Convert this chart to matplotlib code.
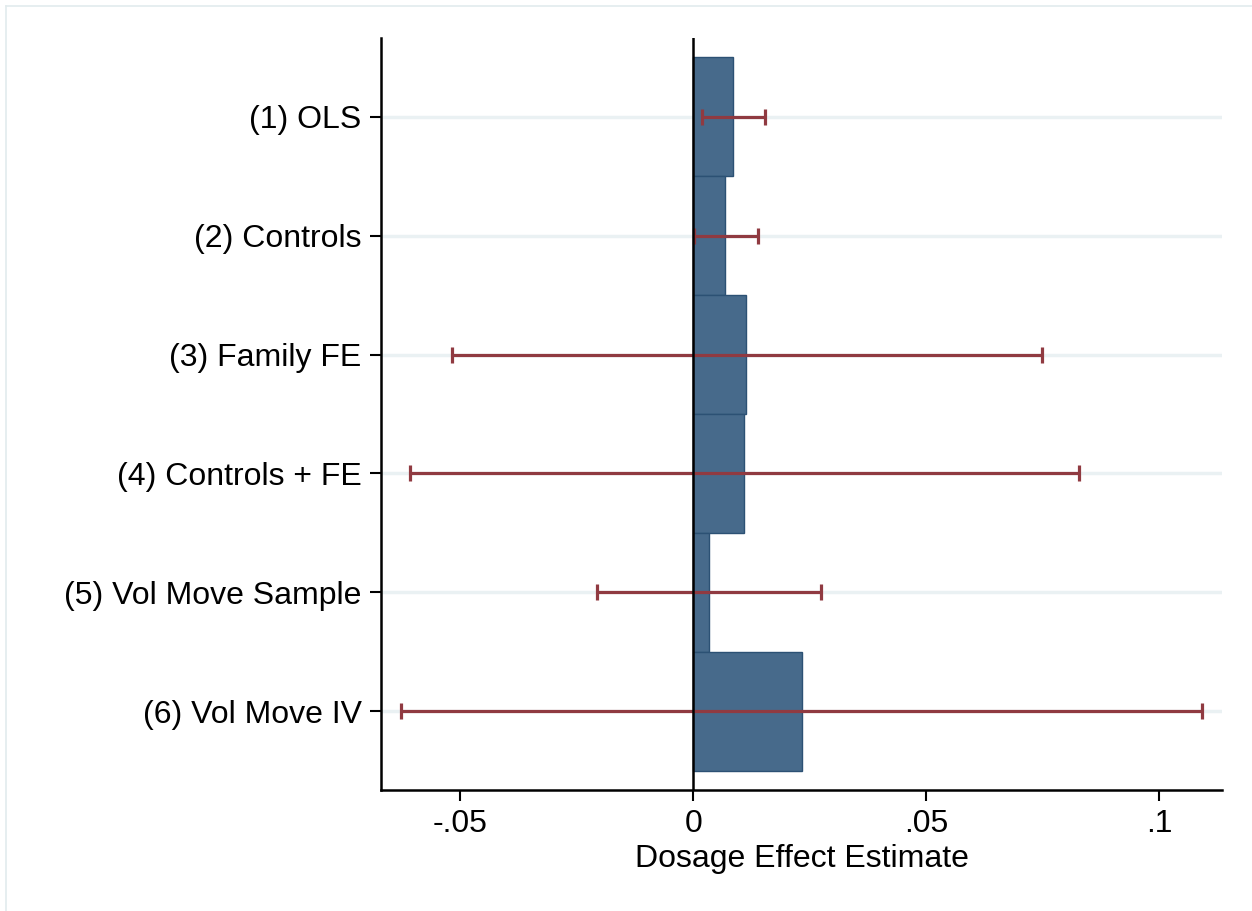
import matplotlib
matplotlib.use("Agg")
import matplotlib.pyplot as plt
from matplotlib.lines import Line2D
import numpy as np

plt.rcParams['font.family'] = ['Liberation Sans', 'DejaVu Sans']

labels = ["(1) OLS", "(2) Controls", "(3) Family FE", "(4) Controls + FE",
          "(5) Vol Move Sample", "(6) Vol Move IV"]
estimates = [0.0086, 0.0069, 0.0114, 0.0109, 0.0034, 0.0234]
ci_low = [0.0019, 0.0002, -0.0517, -0.0607, -0.0206, -0.0627]
ci_high = [0.0155, 0.0139, 0.0749, 0.0828, 0.0275, 0.1092]
xticks = [-0.05, 0, 0.05, 0.1]
xticklabels = ["-.05", "0", ".05", ".1"]

W, H = 1252, 911
fig = plt.figure(figsize=(W/100, H/100), dpi=100)
ax = fig.add_axes([381/W, 1-790/H, (1222-381)/W, (790-38)/H])

# figure border (top and left only)
bc = '#E2EBED'
fig.lines.append(Line2D([6/W, 1], [1-6/H, 1-6/H], transform=fig.transFigure,
                        color=bc, linewidth=1.2))
fig.lines.append(Line2D([6/W, 6/W], [0, 1-6/H], transform=fig.transFigure,
                        color=bc, linewidth=1.2))

y = np.arange(1, len(labels)+1)
for yi in y:
    ax.axhline(yi, color='#EAF1F3', linewidth=2.5, zorder=0)

ax.barh(y, estimates, height=1.0, color='#476A8B', edgecolor='#2C5174',
        linewidth=1.0, zorder=2)
est = np.array(estimates)
xerr = [est - np.array(ci_low), np.array(ci_high) - est]
ax.errorbar(estimates, y, xerr=xerr, fmt='none', ecolor='#903A41',
            elinewidth=2.3, capsize=5.5, capthick=2.3, zorder=3)
ax.axvline(0, color='black', linewidth=1.8, zorder=4)

ax.set_ylim(6.66, 0.34)
ax.set_xlim(-0.067, 0.1135)
ax.set_yticks(y)
ax.set_yticklabels(labels, fontsize=23)
ax.set_xticks(xticks)
ax.set_xticklabels(xticklabels, fontsize=23)
ax.set_xlabel("Dosage Effect Estimate", fontsize=23, labelpad=3)
ax.tick_params(axis='both', length=8, width=1.5, color='black', pad=6)
for s in ['top', 'right']:
    ax.spines[s].set_visible(False)
for s in ['left', 'bottom']:
    ax.spines[s].set_linewidth(1.8)

fig.savefig("out.png", dpi=100, facecolor='white')
